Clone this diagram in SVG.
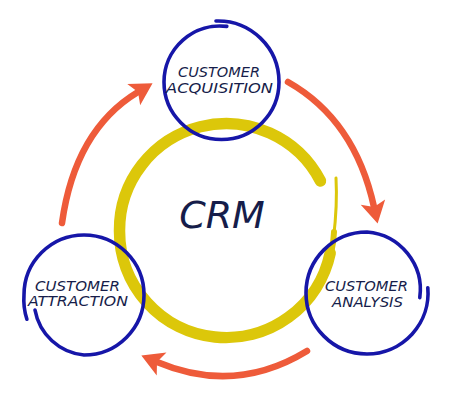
<svg xmlns="http://www.w3.org/2000/svg" width="450" height="420" viewBox="0 0 450 420">
<style>
.ring{fill:none;stroke:#1616a8;stroke-width:3.6;stroke-linecap:round}
.arrow{fill:none;stroke:#ee5b3a;stroke-width:6.5;stroke-linecap:round}
.lbl{font-family:"DejaVu Sans",sans-serif;font-style:italic;font-size:14px;fill:#161d4a}
.crm{font-family:"DejaVu Sans",sans-serif;font-style:italic;font-size:38px;fill:#161d4a}
.yel{fill:none;stroke:#dcc70a;stroke-linecap:round}
</style>
<defs>
<marker id="ah" markerUnits="userSpaceOnUse" markerWidth="30" markerHeight="30" viewBox="-8 -15 30 30" refX="0" refY="0" orient="auto" overflow="visible">
<path d="M -5 -12.5 L 17 0 L -5 12.5 L 0 0 Z" fill="#ee5b3a"/>
</marker>
</defs>
<rect width="450" height="420" fill="#ffffff"/>
<g id="crm">
<path class="yel" d="M 330.2 253.1 A 106.5 106.5 0 0 1 119.5 231 A 106.5 106.5 0 0 1 320.5 181" stroke-width="11.5"/>
<path class="yel" d="M 336 178 Q 337.5 205 333.5 238" stroke-width="3"/>
<path class="yel" d="M 334 232 A 106.5 106.5 0 0 1 331.5 251" stroke-width="6"/>
<text class="crm" x="222" y="228" text-anchor="middle">CRM</text>
</g>
<g id="connectors">
<path class="arrow" d="M 288 82 Q 355 120 374 207" marker-end="url(#ah)"/>
<path class="arrow" d="M 307 351 Q 235 395 157 362" marker-end="url(#ah)"/>
<path class="arrow" d="M 62 223 Q 75 130 138 92" marker-end="url(#ah)"/>
</g>
<g id="acquisition">
<path class="ring" d="M 226.8 26.4 A 56 56 0 0 0 164 82 A 57.5 57.5 0 0 0 279 82 A 61 61 0 0 0 216 21"/>
<text class="lbl" x="219" y="76.5" text-anchor="middle" textLength="82" lengthAdjust="spacingAndGlyphs">CUSTOMER</text>
<text class="lbl" x="219.5" y="92.5" text-anchor="middle" textLength="107" lengthAdjust="spacingAndGlyphs">ACQUISITION</text>
</g>
<g id="analysis">
<path class="ring" d="M 427.8 287.7 A 61 61 0 0 1 367 354 A 61 61 0 0 1 306 293 A 61 61 0 0 1 367 232 A 58 58 0 0 1 419.8 297.6"/>
<text class="lbl" x="366.5" y="290.5" text-anchor="middle" textLength="83" lengthAdjust="spacingAndGlyphs">CUSTOMER</text>
<text class="lbl" x="367.5" y="306.5" text-anchor="middle" textLength="71" lengthAdjust="spacingAndGlyphs">ANALYSIS</text>
</g>
<g id="attraction">
<path class="ring" d="M 35 310 A 55 55 0 0 0 84 355 A 60 60 0 0 0 144 295 A 60 60 0 0 0 84 235 A 60 60 0 0 0 24 295 A 62 62 0 0 0 26.9 319.2"/>
<text class="lbl" x="77.5" y="290.5" text-anchor="middle" textLength="85" lengthAdjust="spacingAndGlyphs">CUSTOMER</text>
<text class="lbl" x="78" y="306" text-anchor="middle" textLength="100" lengthAdjust="spacingAndGlyphs">ATTRACTION</text>
</g>
</svg>
